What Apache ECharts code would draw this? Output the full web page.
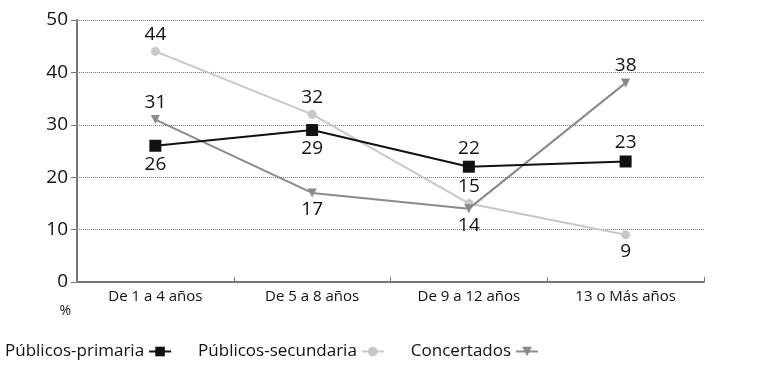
<!DOCTYPE html>
<html>
<head>
<meta charset="utf-8">
<script src="https://cdn.jsdelivr.net/npm/echarts@6/dist/echarts.min.js"></script>
<style>
  html, body { margin: 0; padding: 0; background: #fff; }
  #chart { width: 768px; height: 367px; }
</style>
</head>
<body>
<div id="chart"></div>
<script>
// Años de experiencia del profesorado, % por tipo de centro
const categories = ['De 1 a 4 años', 'De 5 a 8 años', 'De 9 a 12 años', '13 o Más años'];
const publicosPrimaria = [26, 29, 22, 23];
const publicosSecundaria = [44, 32, 15, 9];
const concertados = [31, 17, 14, 38];

// label placement for each point (above / below the marker)
const posPrimaria = ['bottom', 'bottom', 'top', 'top'];
const posSecundaria = ['top', 'top', 'top', 'bottom'];
const posConcertados = ['top', 'bottom', 'bottom', 'top'];

const FONT = 'Open Sans';

function withLabels(values, positions) {
  return values.map((v, i) => ({
    value: v,
    label: { position: positions[i] }
  }));
}

const labelStyle = {
  show: true,
  fontFamily: FONT,
  fontSize: 19,
  color: '#111',
  distance: 3
};

const chart = echarts.init(document.getElementById('chart'));
chart.setOption({
  animation: false,
  backgroundColor: '#fff',
  grid: { left: 77, right: 64, top: 20, bottom: 85 },
  legend: {
    bottom: 2,
    left: 0,
    align: 'right',
    itemGap: 26,
    itemWidth: 22,
    itemHeight: 12,
    textStyle: { fontFamily: FONT, fontSize: 17, color: '#111' },
    data: ['Públicos-primaria', 'Públicos-secundaria', 'Concertados']
  },
  xAxis: {
    type: 'category',
    data: categories,
    boundaryGap: true,
    axisLine: { lineStyle: { color: '#777', width: 2 } },
    axisTick: { show: true, inside: true, length: 5, lineStyle: { color: '#777' } },
    axisLabel: { fontFamily: FONT, fontSize: 15, color: '#111', margin: 7 }
  },
  yAxis: {
    type: 'value',
    min: 0,
    max: 50,
    interval: 10,
    name: '%',
    nameLocation: 'start',
    nameGap: 22,
    nameTextStyle: { fontFamily: FONT, fontSize: 14, color: '#111', align: 'right', padding: [0, 6, 0, 0] },
    axisLine: { show: true, lineStyle: { color: '#777', width: 2 } },
    axisTick: { show: true, length: 6, lineStyle: { color: '#777' } },
    axisLabel: { fontFamily: FONT, fontSize: 19, color: '#111', margin: 9 },
    splitLine: { lineStyle: { color: '#777', type: 'dotted', width: 1 } }
  },
  series: [
    {
      name: 'Públicos-primaria',
      type: 'line',
      data: withLabels(publicosPrimaria, posPrimaria),
      symbol: 'rect',
      symbolSize: 12,
      color: '#111',
      lineStyle: { color: '#111', width: 2 },
      itemStyle: { color: '#111' },
      label: labelStyle,
      z: 4
    },
    {
      name: 'Públicos-secundaria',
      type: 'line',
      data: withLabels(publicosSecundaria, posSecundaria),
      symbol: 'circle',
      symbolSize: 9,
      color: '#c8c8c8',
      lineStyle: { color: '#c8c8c8', width: 2 },
      itemStyle: { color: '#c8c8c8' },
      label: labelStyle,
      z: 2
    },
    {
      name: 'Concertados',
      type: 'line',
      data: withLabels(concertados, posConcertados),
      symbol: 'triangle',
      symbolRotate: 180,
      symbolSize: 9,
      color: '#8a8a8a',
      lineStyle: { color: '#8a8a8a', width: 2 },
      itemStyle: { color: '#8a8a8a' },
      label: labelStyle,
      z: 3
    }
  ]
});
</script>
</body>
</html>
